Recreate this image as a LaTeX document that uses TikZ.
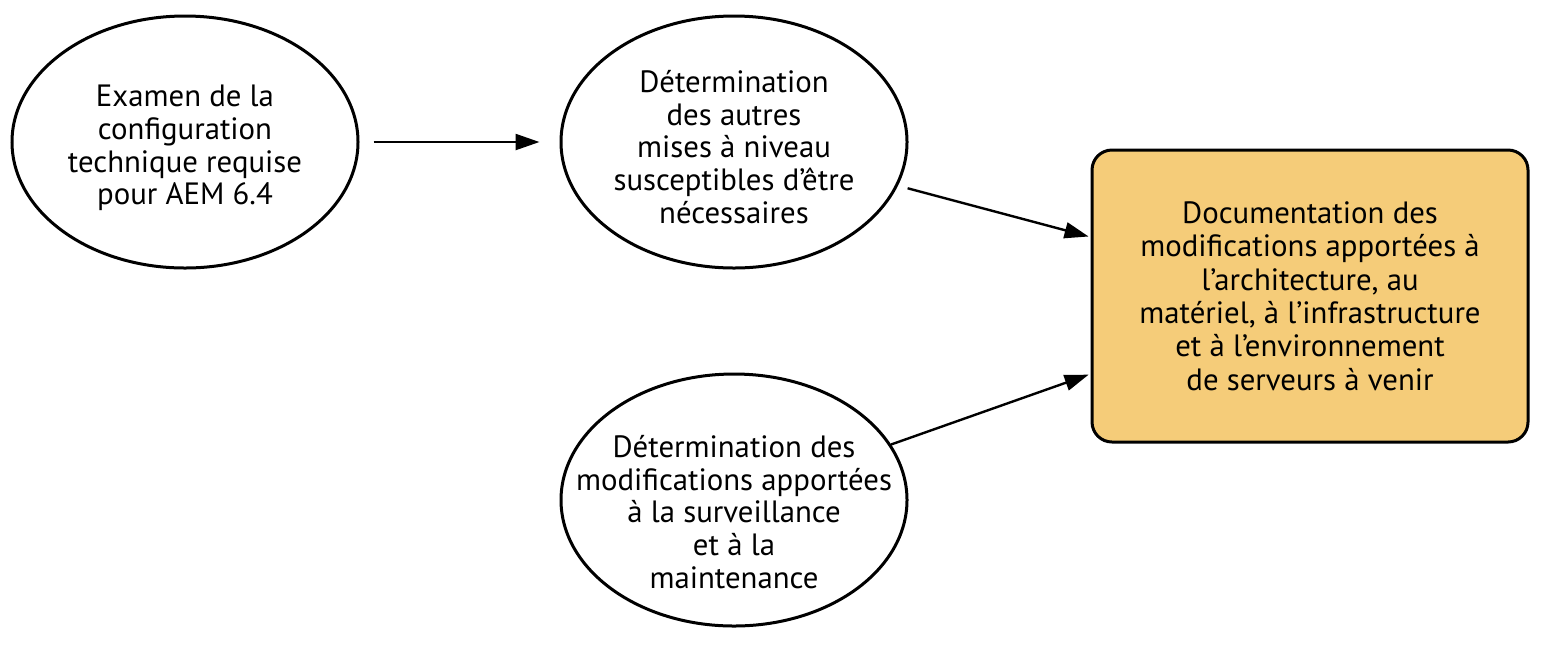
\documentclass[tikz,border=0pt]{standalone}
\usepackage{fontspec}
\setmainfont{PT Sans}
\usetikzlibrary{arrows.meta}
\usetikzlibrary{shapes.geometric}
\definecolor{docfill}{HTML}{F5CC79}
\tikzset{
      step node/.style={ellipse, draw=black, line width=1.5, inner sep=0,
            minimum width=173pt, minimum height=126pt},
      step text/.style={align=center, inner sep=0,
            font=\fontsize{15.4pt}{16.4pt}\selectfont},
      doc node/.style={rectangle, rounded corners=10pt, draw=black, line width=1.5,
            fill=docfill, minimum width=218pt, minimum height=146pt, align=center,
            font=\fontsize{15.4pt}{16.7pt}\selectfont},
      flow/.style={draw=black, line width=1.2, -{Triangle[length=12pt,width=8pt]}},
}

\begin{document}
\begin{tikzpicture}[x=0.5pt,y=-0.5pt]
        \useasboundingbox (0,0) rectangle (1556,650);

        % Draw the steps
        \node[step node, label={[step text, yshift=-3pt]center:{Examen de la\\configuration\\technique requise\\pour AEM 6.4}}] (exam) at (185,142) {};
        \node[step node, label={[step text, yshift=-2.5pt]center:{Détermination\\des autres\\mises à niveau\\susceptibles d’être\\nécessaires}}] (upgrades) at (734,142) {};
        \node[step node, label={[step text, yshift=-6pt]center:{Détermination des\\modifications apportées\\à la surveillance\\et à la\\maintenance}}] (monitor) at (734,500) {};

        % Draw the result
        \node[doc node] (doc) at (1310,296) {Documentation des\\modifications apportées à\\l’architecture, au\\matériel, à l’infrastructure\\et à l’environnement\\de serveurs à venir};

        % Draw the arrows
        \draw[flow, shorten <=7pt, shorten >=10pt] (exam) -- (upgrades);
        \draw[flow, shorten <=5pt, shorten >=1pt] (upgrades) -- ([yshift=29.5pt]doc.west);
        \draw[flow, shorten >=1pt] (monitor) -- ([yshift=-39pt]doc.west);

\end{tikzpicture}
\end{document}
